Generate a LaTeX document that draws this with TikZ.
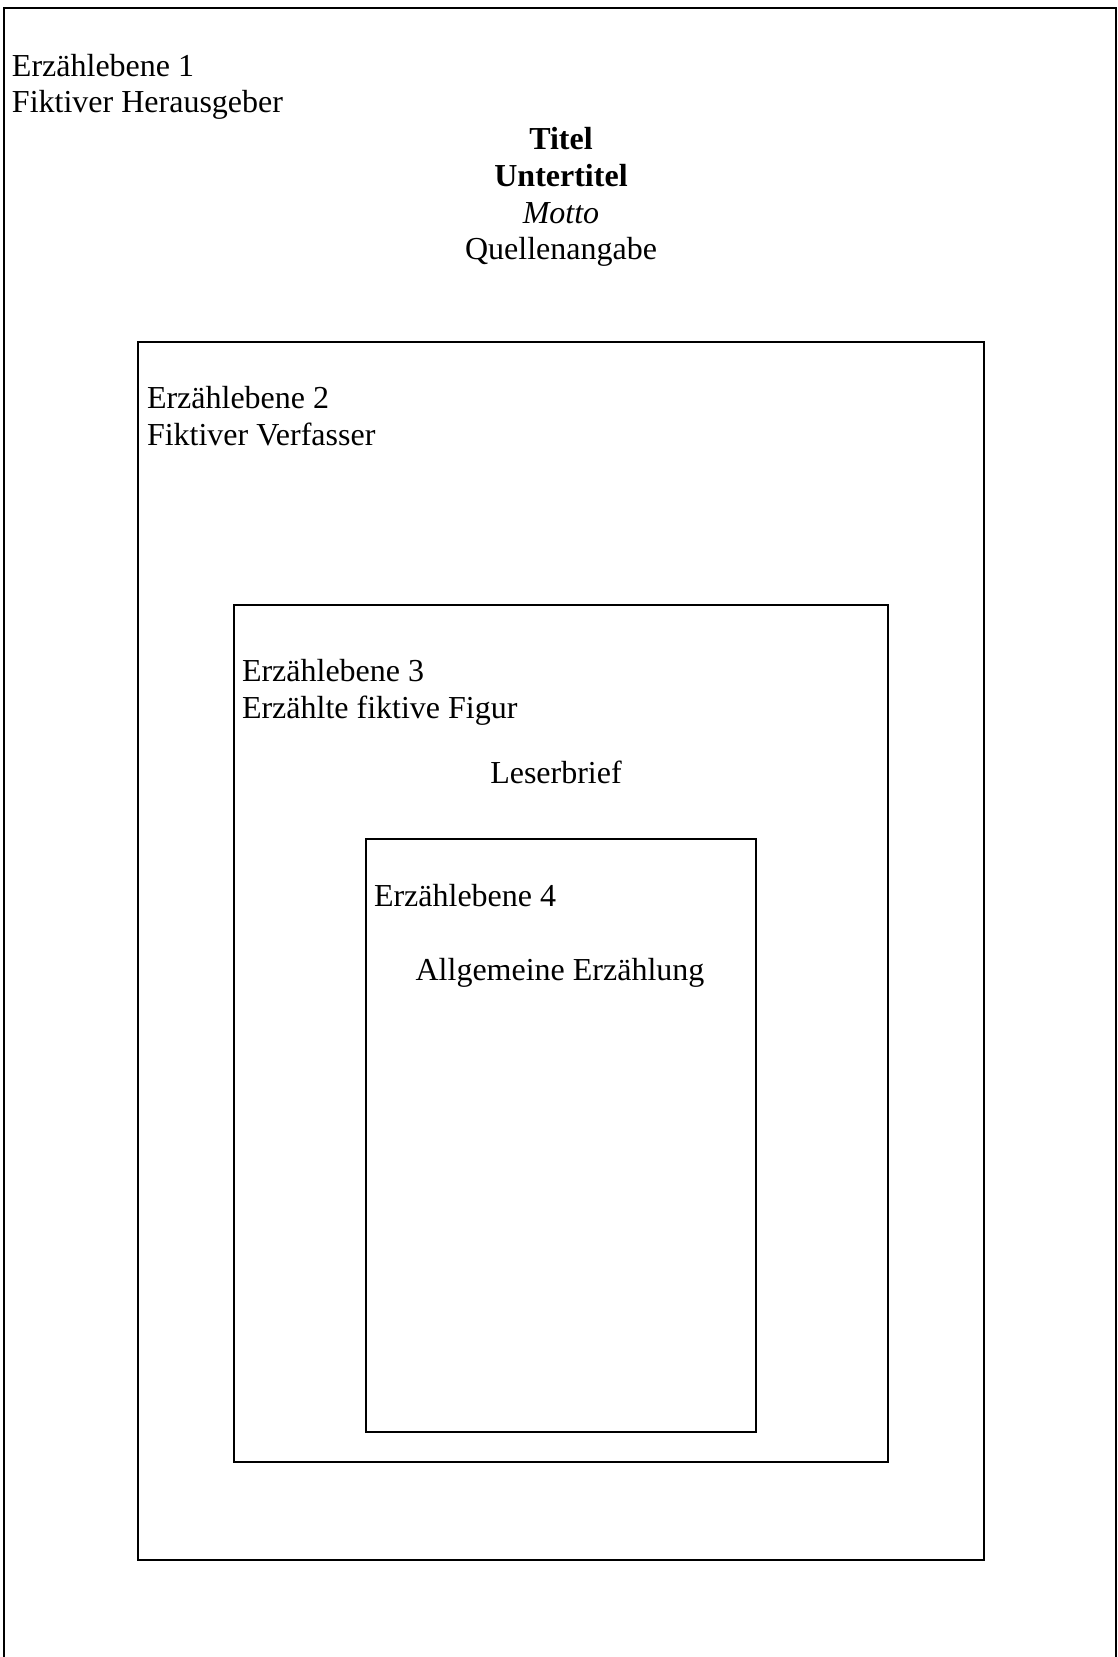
\documentclass[tikz,border=0pt]{standalone}
\usepackage{fontspec}
\setmainfont{Liberation Serif}
\begin{document}
\begin{tikzpicture}[x=1pt,y=-1pt,
  frame/.style={draw=black,line width=1.8pt},
  lbl/.style={inner sep=0pt,outer sep=0pt,font=\fontsize{32}{37}\selectfont,anchor=base west},
  ctr/.style={inner sep=0pt,outer sep=0pt,font=\fontsize{32}{37}\selectfont,anchor=base}]
\useasboundingbox[fill=white] (0,0) rectangle (1118,1657);
% outer frame (bottom edge lies below the picture)
\draw[frame] (4,1657) -- (4,8) -- (1116,8) -- (1116,1657);
\draw[frame] (138,342) rectangle (984,1560);
\draw[frame] (234,605) rectangle (888,1462);
\draw[frame] (366,839) rectangle (756,1432);
% level 1
\node[lbl] (e1) at (12,76) {Erzählebene 1};
\node[lbl] (e1b) at (12,112) {Fiktiver Herausgeber};
\node[ctr] (titel) at (561,149) {\bfseries Titel};
\node[ctr] (untertitel) at (561,186) {\bfseries Untertitel};
\node[ctr] (motto) at (561,223) {\itshape Motto};
\node[ctr] (quelle) at (561,259) {Quellenangabe};
% level 2
\node[lbl] (e2) at (147,408) {Erzählebene 2};
\node[lbl] (e2b) at (147,445) {Fiktiver Verfasser};
% level 3
\node[lbl] (e3) at (242,681) {Erzählebene 3};
\node[lbl] (e3b) at (242,718) {Erzählte fiktive Figur};
\node[ctr] (leser) at (556,783) {Leserbrief};
% level 4
\node[lbl] (e4) at (374,906) {Erzählebene 4};
\node[ctr] (allg) at (560,980) {Allgemeine Erzählung};
\end{tikzpicture}
\end{document}
